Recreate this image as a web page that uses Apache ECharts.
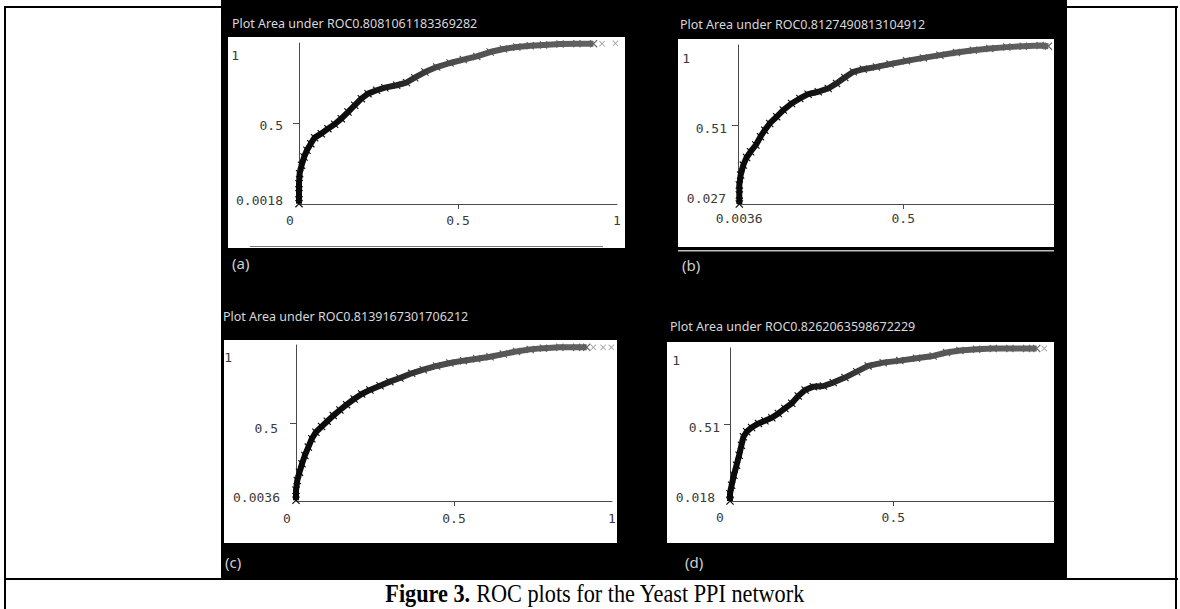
<!DOCTYPE html>
<html>
<head>
<meta charset="utf-8">
<title>ROC plots for the Yeast PPI network</title>
<script src="https://cdn.jsdelivr.net/npm/echarts@6/dist/echarts.min.js"></script>
<style>
  html, body { margin: 0; padding: 0; background: #fff; }
  #main { width: 1180px; height: 609px; }
</style>
</head>
<body>
<div id="main"></div>
<script>
// ROC points: [false positive rate, true positive rate]
var rocA = [
    [0.000, 0.004], [0.000, 0.066], [0.000, 0.128], [0.002, 0.190], [0.008, 0.242], [0.016, 0.293],
    [0.025, 0.335], [0.037, 0.376], [0.049, 0.413], [0.070, 0.438], [0.091, 0.469], [0.112, 0.496],
    [0.133, 0.531], [0.154, 0.572], [0.175, 0.614], [0.196, 0.655], [0.217, 0.686], [0.244, 0.707],
    [0.270, 0.723], [0.307, 0.738], [0.338, 0.755], [0.364, 0.785], [0.396, 0.820], [0.433, 0.851],
    [0.475, 0.876], [0.517, 0.897], [0.559, 0.917], [0.601, 0.944], [0.643, 0.963], [0.685, 0.975],
    [0.727, 0.983], [0.769, 0.988], [0.821, 0.994], [0.874, 0.996], [0.926, 0.996]
];
var tailA = [[0.953, 0.996], [0.995, 0.998]];

var rocB = [
    [0.004, 0.027], [0.004, 0.082], [0.004, 0.143], [0.008, 0.204], [0.016, 0.265], [0.026, 0.312],
    [0.038, 0.347], [0.054, 0.388], [0.068, 0.439], [0.081, 0.479], [0.096, 0.520], [0.117, 0.561],
    [0.137, 0.602], [0.162, 0.642], [0.187, 0.673], [0.212, 0.699], [0.243, 0.714], [0.273, 0.734],
    [0.298, 0.765], [0.323, 0.801], [0.349, 0.836], [0.379, 0.852], [0.419, 0.866], [0.460, 0.883],
    [0.510, 0.903], [0.561, 0.921], [0.611, 0.938], [0.661, 0.954], [0.712, 0.968], [0.762, 0.978],
    [0.813, 0.987], [0.863, 0.993], [0.914, 0.997], [0.939, 0.993]
];
var tailB = [];

var rocC = [
    [0.000, 0.008], [0.000, 0.072], [0.004, 0.135], [0.011, 0.188], [0.019, 0.241], [0.028, 0.295],
    [0.039, 0.348], [0.050, 0.401], [0.063, 0.443], [0.081, 0.479], [0.099, 0.513], [0.118, 0.549],
    [0.139, 0.585], [0.160, 0.619], [0.184, 0.655], [0.208, 0.687], [0.234, 0.713], [0.266, 0.740],
    [0.297, 0.766], [0.329, 0.789], [0.366, 0.819], [0.403, 0.842], [0.445, 0.866], [0.487, 0.885],
    [0.530, 0.900], [0.572, 0.912], [0.614, 0.925], [0.656, 0.942], [0.698, 0.959], [0.741, 0.972],
    [0.783, 0.980], [0.835, 0.985], [0.888, 0.985], [0.920, 0.985]
];
var tailC = [[0.941, 0.985], [0.972, 0.985], [0.998, 0.985]];

var rocD = [
    [0.000, 0.018], [0.000, 0.065], [0.005, 0.119], [0.012, 0.183], [0.020, 0.248], [0.028, 0.312],
    [0.035, 0.376], [0.041, 0.430], [0.051, 0.462], [0.066, 0.490], [0.087, 0.516], [0.107, 0.533],
    [0.128, 0.552], [0.148, 0.580], [0.168, 0.612], [0.189, 0.645], [0.209, 0.692], [0.230, 0.730],
    [0.255, 0.752], [0.286, 0.756], [0.316, 0.778], [0.352, 0.810], [0.388, 0.848], [0.423, 0.885],
    [0.469, 0.906], [0.520, 0.919], [0.571, 0.934], [0.622, 0.949], [0.663, 0.971], [0.704, 0.984],
    [0.755, 0.992], [0.806, 0.997], [0.857, 0.997], [0.908, 0.997], [0.939, 0.997]
];
var tailD = [[0.962, 0.997]];

var plotTitles = [
    'Plot Area under ROC0.8081061183369282',
    'Plot Area under ROC0.8127490813104912',
    'Plot Area under ROC0.8139167301706212',
    'Plot Area under ROC0.8262063598672229'
];
var panelTags = ['(a)', '(b)', '(c)', '(d)'];
var xTickLabels = [[0, 0.5, 1], [0.0036, 0.5], [0, 0.5, 1], [0, 0.5]];
var yTickLabels = [[0.0018, 0.5, 1], [0.027, 0.51, 1], [0.0036, 0.5, 1], [0.018, 0.51, 1]];
var xTickMarks = [[0.5], [0.5], [0.5], [0.5]];
var yTickMarks = [[0.5], [0.51], [0.5], [0.51]];
var captionBold = 'Figure 3.';
var captionText = ' ROC plots for the Yeast PPI network';

var rocData = [rocA, rocB, rocC, rocD];
var tailData = [tailA, tailB, tailC, tailD];

// panel geometry (pixels) and label nudges [dx, dy] for each tick label
var layout = [
    {grid: {left: 299, top: 43, width: 318, height: 161}, xMin: 0, xMax: 1, yMin: 0.0018, yMax: 1,
     yMargin: 16, yShift: [[0, -4], [0, 2], [-44, 12]], xMargin: 10, xShift: [[-9, 0], [0, 0], [0, 0]],
     title: [232, 17], tag: [232, 255], box: [228, 37, 397, 211]},
    {grid: {left: 738, top: 45, width: 316, height: 159}, xMin: 0, xMax: 0.956, yMin: 0.027, yMax: 1,
     yMargin: 11, yShift: [[-1, -6], [0, 3], [-37, 13]], xMargin: 8, xShift: [[0, 0], [0, 0]],
     title: [680, 18], tag: [682, 257], box: [678, 39, 376, 208]},
    {grid: {left: 296, top: 345, width: 316, height: 156}, xMin: 0, xMax: 1, yMin: 0.0036, yMax: 1,
     yMargin: 16, yShift: [[0, -4], [-2, 5], [-48, 12]], xMargin: 11, xShift: [[-9, 0], [0, 0], [0, 0]],
     title: [223, 310], tag: [225, 554], box: [224, 340, 393, 203]},
    {grid: {left: 730, top: 348, width: 324, height: 153}, xMin: 0, xMax: 0.992, yMin: 0.018, yMax: 1,
     yMargin: 10, yShift: [[-5, -4], [0, 3], [-40, 12]], xMargin: 10, xShift: [[-10, 0], [0, 0]],
     title: [670, 320], tag: [685, 554], box: [667, 342, 387, 201]}
];

var mono = 'DejaVu Sans Mono';
var tickColor = '#3a3a3a';
var cross = 'path://M0,1L1,0L5,4L9,0L10,1L6,5L10,9L9,10L5,6L1,10L0,9L4,5Z';

function labelStyle(values, shifts, vertical) {
    var rich = {};
    values.forEach(function (v, i) {
        var dx = shifts[i][0], dy = shifts[i][1];
        var pad;
        if (vertical) {
            pad = [dy > 0 ? 2 * dy : 0, dx < 0 ? -dx : 0, dy < 0 ? -2 * dy : 0, 0];
        } else {
            pad = [dy > 0 ? dy : 0, dx < 0 ? -2 * dx : 0, 0, dx > 0 ? 2 * dx : 0];
        }
        rich['t' + i] = {fontFamily: mono, fontSize: 13, color: tickColor, padding: pad};
    });
    return {
        rich: rich,
        formatter: function (v) {
            var i = values.indexOf(v);
            return '{t' + i + '|' + String(v) + '}';
        }
    };
}

var grids = [], xAxes = [], yAxes = [], series = [], titles = [], graphics = [];

// table rules and black picture area
graphics.push({type: 'rect', z: -10, shape: {x: 221, y: 0, width: 846, height: 579}, style: {fill: '#000'}});
graphics.push({type: 'rect', z: -11, shape: {x: 4, y: 6, width: 1174, height: 2}, style: {fill: '#000'}});
graphics.push({type: 'rect', z: -11, shape: {x: 4, y: 6, width: 2, height: 603}, style: {fill: '#000'}});
graphics.push({type: 'rect', z: -11, shape: {x: 1175, y: 6, width: 2, height: 603}, style: {fill: '#000'}});
graphics.push({type: 'rect', z: -11, shape: {x: 4, y: 578, width: 1174, height: 2}, style: {fill: '#000'}});

layout.forEach(function (p, k) {
    var b = p.box;
    graphics.push({type: 'rect', z: -9, shape: {x: b[0], y: b[1], width: b[2], height: b[3]}, style: {fill: '#fff'}});

    grids.push(p.grid);

    var xl = labelStyle(xTickLabels[k], p.xShift, false);
    xAxes.push({
        type: 'value', gridIndex: k, min: p.xMin, max: p.xMax,
        axisLine: {show: true, onZero: false, lineStyle: {color: '#4a4a4a', width: 1}},
        axisTick: {show: true, customValues: xTickMarks[k], length: 5, lineStyle: {color: '#4a4a4a'}},
        axisLabel: {show: true, customValues: xTickLabels[k], margin: p.xMargin, verticalAlign: 'top',
                    fontFamily: mono, fontSize: 13, color: tickColor, rich: xl.rich, formatter: xl.formatter},
        splitLine: {show: false}
    });

    var yl = labelStyle(yTickLabels[k], p.yShift, true);
    yAxes.push({
        type: 'value', gridIndex: k, min: p.yMin, max: p.yMax,
        axisLine: {show: true, onZero: false, lineStyle: {color: '#4a4a4a', width: 1}},
        axisTick: {show: true, customValues: yTickMarks[k], length: 6, lineStyle: {color: '#4a4a4a'}},
        axisLabel: {show: true, customValues: yTickLabels[k], margin: p.yMargin,
                    fontFamily: mono, fontSize: 13, color: tickColor, rich: yl.rich, formatter: yl.formatter},
        splitLine: {show: false}
    });

    series.push({
        type: 'line', xAxisIndex: k, yAxisIndex: k, data: rocData[k],
        symbol: cross, symbolSize: 8, showSymbol: true,
        lineStyle: {width: 6, join: 'bevel'}, z: 3
    });

    titles.push({
        text: plotTitles[k], left: p.title[0], top: p.title[1], padding: 0,
        textStyle: {color: '#d8d8d8', fontFamily: 'Noto Sans', fontSize: 12.5, fontWeight: 'normal'}
    });
    titles.push({
        text: panelTags[k], left: p.tag[0], top: p.tag[1], padding: 0,
        textStyle: {color: '#cfcfcf', fontFamily: 'Noto Sans', fontSize: 15, fontWeight: 'normal'}
    });
});

layout.forEach(function (p, k) {
    series.push({
        type: 'scatter', xAxisIndex: k, yAxisIndex: k, data: tailData[k],
        symbol: cross, symbolSize: 6, itemStyle: {color: '#8a8a8a'}, z: 3
    });
});

// small rules under panels (a) and (b)
graphics.push({type: 'rect', z: -8, shape: {x: 250, y: 246, width: 353, height: 1}, style: {fill: '#777'}});
graphics.push({type: 'rect', z: -8, shape: {x: 678, y: 250, width: 376, height: 1.5}, style: {fill: '#bdbdbd'}});

// caption
graphics.push({
    type: 'text', x: 595, y: 594, scaleX: 0.89,
    style: {
        text: '{b|' + captionBold + '}' + captionText,
        fill: '#000', align: 'center', verticalAlign: 'middle',
        fontFamily: 'Liberation Serif', fontSize: 25,
        rich: {b: {fontFamily: 'Liberation Serif', fontSize: 25, fontWeight: 'bold', fill: '#000'}}
    }
});

var myChart = echarts.init(document.getElementById('main'), null, {renderer: 'svg'});

var option = {
    backgroundColor: '#fff',
    animation: false,
    title: titles,
    grid: grids,
    xAxis: xAxes,
    yAxis: yAxes,
    visualMap: {
        show: false, type: 'continuous', dimension: 0, seriesIndex: [0, 1, 2, 3], min: 0, max: 1,
        inRange: {color: ['#0a0a0a', '#0c0c0c', '#111111', '#2a2a2a', '#4a4a4a', '#535353', '#585858', '#5c5c5c', '#616161', '#666666']}
    },
    graphic: graphics,
    series: series
};

myChart.setOption(option);
</script>
</body>
</html>
